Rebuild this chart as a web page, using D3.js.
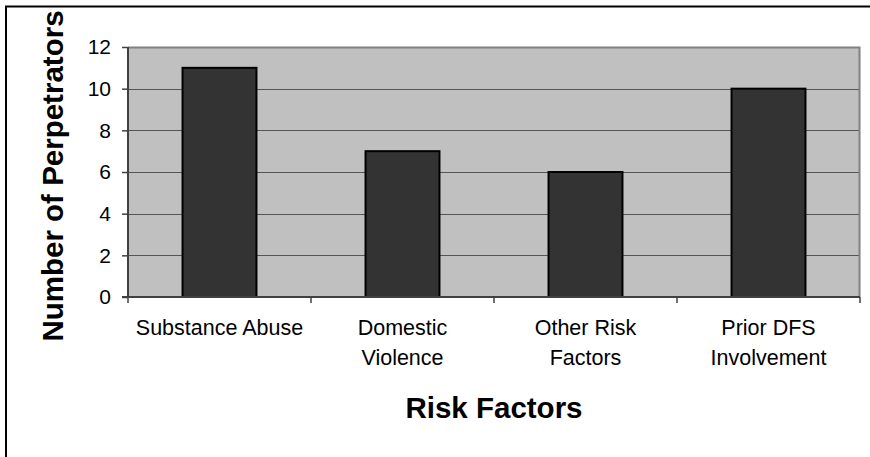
<!DOCTYPE html>
<html>
<head>
<meta charset="utf-8">
<script src="https://cdn.jsdelivr.net/npm/d3@7"></script>
<style>
  html, body { margin: 0; padding: 0; background: #ffffff; }
  svg { display: block; font-family: Arial, "Liberation Sans", sans-serif; }
</style>
</head>
<body>
<svg id="chart" width="870" height="457"></svg>
<script>
// Risk factors and the number of perpetrators with each
const categories = ["Substance Abuse", "Domestic Violence", "Other Risk Factors", "Prior DFS Involvement"];
const categoryLines = [["Substance Abuse"], ["Domestic", "Violence"], ["Other Risk", "Factors"], ["Prior DFS", "Involvement"]];
const perpetrators = [11, 7, 6, 10];
const yTicks = [0, 2, 4, 6, 8, 10, 12];
const xTitle = "Risk Factors";
const yTitle = "Number of Perpetrators";

const svg = d3.select("#chart");
const plot = { left: 128, right: 860, top: 47, bottom: 297 };

// Outer chart frame
svg.append("rect")
  .attr("x", 6).attr("y", 6.5)
  .attr("width", 900).attr("height", 500)
  .attr("fill", "#ffffff")
  .attr("stroke", "#000000")
  .attr("stroke-width", 2);

const x = d3.scaleBand()
  .domain(categories)
  .range([plot.left, plot.right])
  .paddingInner(0.596)
  .paddingOuter(0.298);

const y = d3.scaleLinear()
  .domain([0, 12])
  .range([plot.bottom, plot.top]);

// Plot area background
svg.append("rect")
  .attr("x", plot.left).attr("y", plot.top)
  .attr("width", plot.right - plot.left)
  .attr("height", plot.bottom - plot.top)
  .attr("fill", "#c0c0c0");

// Horizontal gridlines
svg.append("g")
  .selectAll("line")
  .data(yTicks.filter(d => d > 0 && d < 12))
  .join("line")
  .attr("x1", plot.left).attr("x2", plot.right)
  .attr("y1", d => Math.round(y(d)) + 0.5)
  .attr("y2", d => Math.round(y(d)) + 0.5)
  .attr("stroke", "#555555")
  .attr("stroke-width", 1.2);

// Top and right edges of plot area
svg.append("path")
  .attr("d", `M${plot.left},${plot.top + 0.5}H${plot.right - 0.5}V${plot.bottom}`)
  .attr("fill", "none")
  .attr("stroke", "#808080")
  .attr("stroke-width", 2);

// Bars
svg.append("g")
  .selectAll("rect")
  .data(categories)
  .join("rect")
  .attr("x", d => x(d))
  .attr("y", (d, i) => y(perpetrators[i]))
  .attr("width", x.bandwidth())
  .attr("height", (d, i) => y(0) - y(perpetrators[i]))
  .attr("fill", "#333333")
  .attr("stroke", "#000000")
  .attr("stroke-width", 2);

// Y axis
const yAxis = svg.append("g")
  .attr("transform", `translate(${plot.left},0)`)
  .call(d3.axisLeft(y).tickValues(yTicks).tickSize(6).tickPadding(11).tickFormat(d3.format("d")));
yAxis.select(".domain").attr("stroke", "#404040").attr("stroke-width", 2).attr("d", `M0,${plot.top}V${plot.bottom}`);
yAxis.selectAll(".tick line").attr("stroke", "#404040").attr("stroke-width", 1.5);
yAxis.selectAll(".tick text")
  .attr("font-size", 21)
  .attr("font-family", "Arial, 'Liberation Sans', sans-serif")
  .attr("fill", "#000000");

// X axis with ticks at category boundaries
const xAxisG = svg.append("g");
xAxisG.append("line")
  .attr("x1", plot.left - 6).attr("x2", plot.right)
  .attr("y1", plot.bottom).attr("y2", plot.bottom)
  .attr("stroke", "#404040").attr("stroke-width", 2);
const edges = [plot.left].concat(categories.slice(1).map(c => x(c) - x.step() * x.paddingInner() / 2), [plot.right]);
xAxisG.selectAll("line.tick")
  .data(edges)
  .join("line")
  .attr("class", "tick")
  .attr("x1", d => d).attr("x2", d => d)
  .attr("y1", plot.bottom).attr("y2", plot.bottom + 6)
  .attr("stroke", "#404040").attr("stroke-width", 1.5);

// Category labels
const labels = svg.append("g")
  .attr("font-size", 21.5)
  .attr("text-anchor", "middle")
  .attr("fill", "#000000");
categories.forEach((c, i) => {
  const cx = x(c) + x.bandwidth() / 2;
  labels.append("text")
    .attr("x", cx)
    .attr("y", 335)
    .selectAll("tspan")
    .data(categoryLines[i])
    .join("tspan")
    .attr("x", cx)
    .attr("dy", (d, j) => j === 0 ? 0 : 30)
    .text(d => d);
});

// Axis titles
svg.append("text")
  .attr("x", (plot.left + plot.right) / 2)
  .attr("y", 418)
  .attr("text-anchor", "middle")
  .attr("font-size", 29.5)
  .attr("font-weight", "bold")
  .text(xTitle);

svg.append("text")
  .attr("transform", `translate(63,176) rotate(-90)`)
  .attr("text-anchor", "middle")
  .attr("font-size", 29.5)
  .attr("font-weight", "bold")
  .text(yTitle);
</script>
</body>
</html>
